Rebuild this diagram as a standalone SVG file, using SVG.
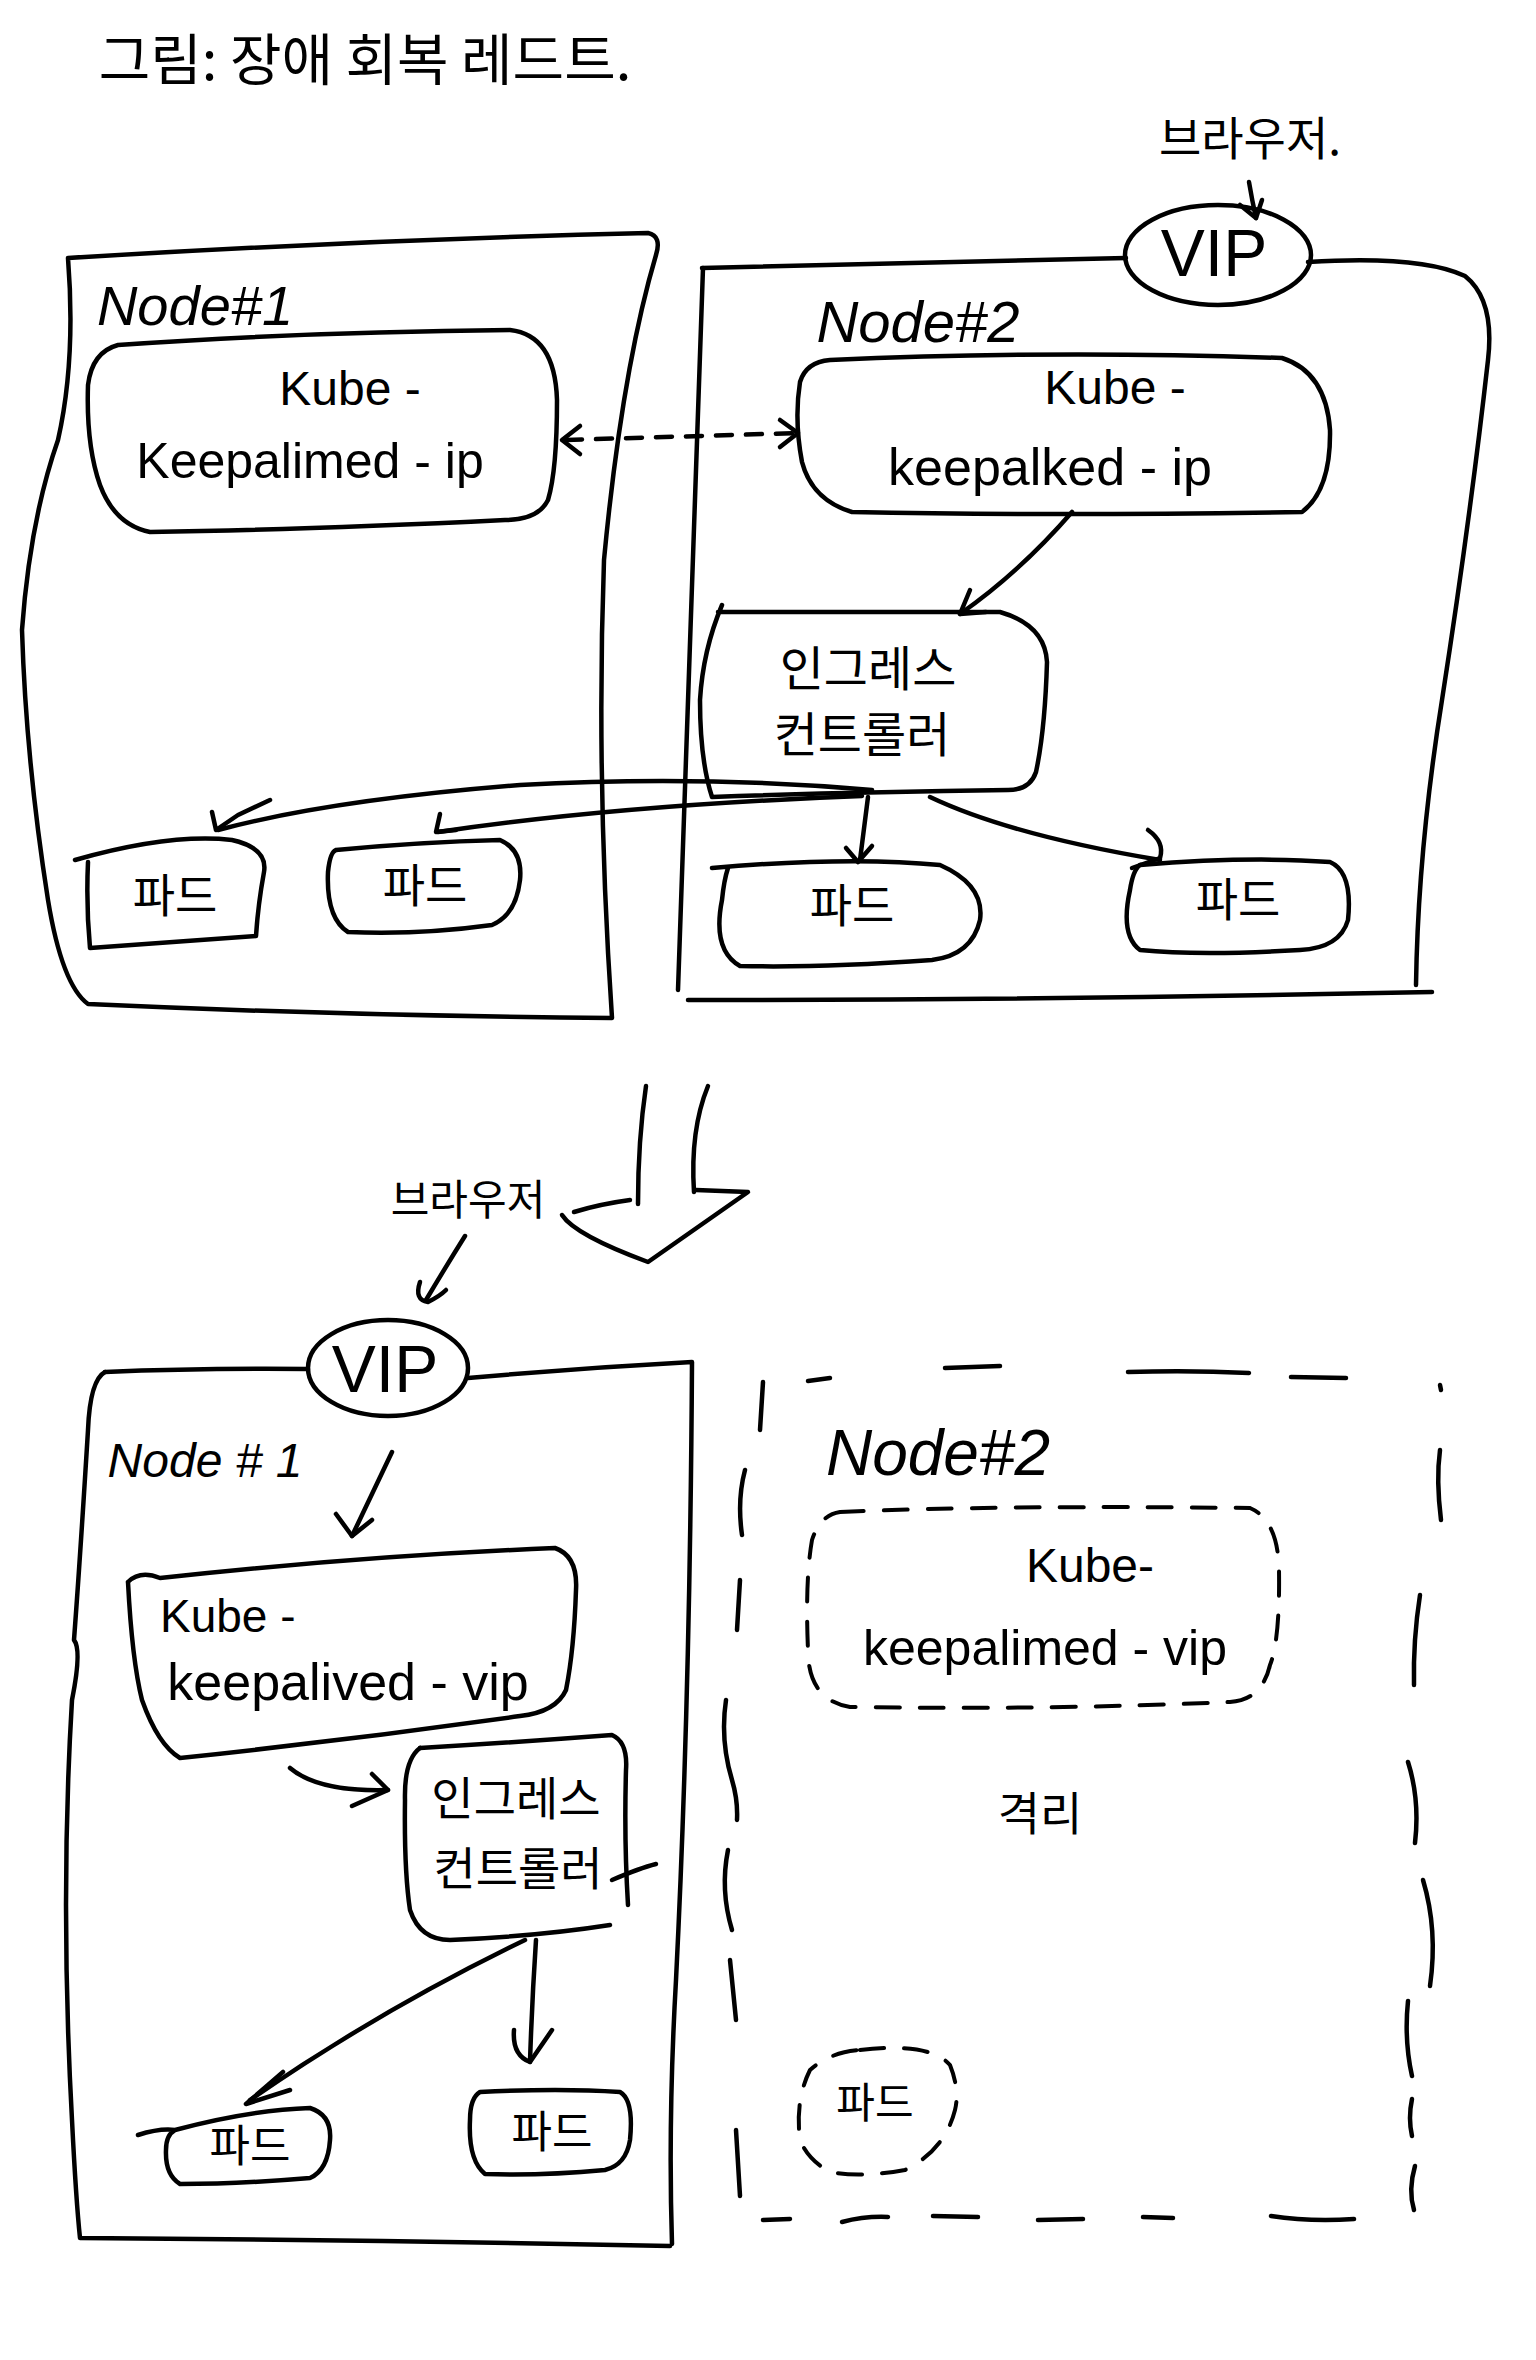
<svg xmlns="http://www.w3.org/2000/svg" width="1536" height="2360" viewBox="0 0 1536 2360">
<style>
.s{fill:none;stroke:#000;stroke-width:4.5;stroke-linecap:round;stroke-linejoin:round}
.d{fill:none;stroke:#000;stroke-width:4;stroke-linecap:round;stroke-dasharray:24 20}
.t{font-family:"Liberation Sans","Noto Sans CJK KR",sans-serif;fill:#000;text-anchor:middle}
.k{font-family:"Noto Sans CJK KR","Liberation Sans",sans-serif;fill:#000;text-anchor:middle}
.n{font-style:italic}
</style>
<rect width="1536" height="2360" fill="#fff"/>

<g id="title">
<text class="k" x="365" y="80" font-size="56">그림: 장애 회복 레드트.</text>
</g>

<!-- TOP SECTION -->
<g id="browser-top">
<text class="k" x="1250" y="155" font-size="46">브라우저.</text>
</g>
<g id="vip-top">
<ellipse class="s" cx="1218" cy="255" rx="93" ry="50"/>
<text class="t" x="1214" y="276" font-size="66">VIP</text>
</g>

<g id="node1-top">
<path class="s" d="M68 258 Q360 240 648 233 Q662 236 656 255 Q622 370 604 560 Q596 780 612 1018 Q350 1016 88 1004 Q62 985 48 900 Q26 760 22 630 Q30 520 58 440 Q76 360 68 258"/>
<text class="t n" x="195" y="325" font-size="56">Node#1</text>
</g>
<g id="kkip-node1">
<path class="s" d="M118 345 Q300 332 510 330 Q555 335 557 400 Q557 470 548 500 Q538 520 505 520 Q300 530 150 532 Q115 525 100 485 Q86 445 88 385 Q92 352 118 345"/>
<text class="t" x="350" y="405" font-size="48">Kube -</text>
<text class="t" x="310" y="478" font-size="50">Keepalimed - ip</text>
</g>
<g id="pod-n1-a">
<path class="s" d="M75 860 Q170 833 232 840 Q268 848 264 872 Q258 905 256 936 Q170 942 90 948 Q86 905 88 862"/>
<text class="k" x="175" y="912" font-size="46">파드</text>
</g>
<g id="pod-n1-b">
<path class="s" d="M336 850 Q420 842 500 840 Q523 850 520 880 Q516 915 492 925 Q420 935 348 932 Q326 918 328 872 Q330 852 336 850"/>
<text class="k" x="425" y="902" font-size="46">파드</text>
</g>

<g id="node2-top">
<path class="s" d="M702 268 L1126 258"/>
<path class="s" d="M1308 262 Q1420 255 1465 276 Q1495 300 1488 360 Q1470 520 1442 700 Q1418 850 1416 985"/>
<path class="s" d="M703 268 Q690 600 678 990"/>
<path class="s" d="M688 1000 Q1050 1000 1432 992"/>
<text class="t n" x="918" y="342" font-size="58">Node#2</text>
</g>
<g id="kkip-node2">
<path class="s" d="M830 360 Q1050 350 1282 358 Q1326 372 1330 430 Q1331 490 1302 512 Q1050 516 852 512 Q812 500 802 462 Q794 420 800 382 Q806 362 830 360"/>
<text class="t" x="1115" y="404" font-size="48">Kube -</text>
<text class="t" x="1050" y="485" font-size="52">keepalked - ip</text>
</g>
<g id="ingress-top">
<path class="s" d="M718 612 L1000 612 Q1045 625 1047 662 Q1045 730 1036 772 Q1030 790 1008 790 Q850 792 712 797 Q700 760 700 700 Q703 650 722 605"/>
<text class="k" x="868" y="686" font-size="48">인그레스</text>
<text class="k" x="862" y="752" font-size="48">컨트롤러</text>
</g>
<g id="pod-n2-a">
<path class="s" d="M712 868 Q850 856 940 865 Q985 885 980 920 Q972 955 932 960 Q820 968 740 966 Q712 950 722 900 Q724 880 728 868"/>
<text class="k" x="852" y="922" font-size="46">파드</text>
</g>
<g id="pod-n2-b">
<path class="s" d="M1140 865 Q1250 856 1330 862 Q1353 872 1348 920 Q1340 948 1300 950 Q1200 956 1140 950 Q1120 935 1130 890 Q1133 870 1140 865"/>
<text class="k" x="1238" y="916" font-size="46">파드</text>
</g>

<!-- BOTTOM SECTION -->
<g id="browser-bottom">
<text class="k" x="468" y="1215" font-size="42">브라우저</text>
</g>
<g id="vip-bottom">
<ellipse class="s" cx="388" cy="1368" rx="80" ry="48"/>
<text class="t" x="385" y="1392" font-size="66">VIP</text>
</g>
<g id="node1-bottom">
<path class="s" d="M105 1372 Q200 1368 308 1369"/>
<path class="s" d="M468 1378 Q580 1368 692 1362 Q690 1700 676 1980 Q668 2120 672 2244"/>
<path class="s" d="M105 1372 Q90 1380 88 1430 Q80 1560 74 1640 Q82 1650 72 1700 Q60 1900 72 2120 Q76 2200 80 2238 Q380 2240 670 2246"/>
<text class="t n" x="205" y="1477" font-size="48">Node # 1</text>
</g>
<g id="kkvip-node1">
<path class="s" d="M128 1582 Q140 1570 160 1578 Q360 1556 555 1548 Q578 1556 576 1590 Q574 1650 566 1690 Q556 1712 520 1716 Q350 1740 180 1758 Q158 1745 142 1700 Q132 1660 128 1582"/>
<text class="t" x="160" y="1632" font-size="46" style="text-anchor:start">Kube -</text>
<text class="t" x="348" y="1700" font-size="52">keepalived - vip</text>
</g>
<g id="ingress-bottom">
<path class="s" d="M420 1748 Q520 1742 612 1735 Q628 1742 626 1770 Q624 1840 628 1905"/>
<path class="s" d="M420 1748 Q404 1760 405 1800 Q404 1870 410 1910 Q420 1940 450 1940 Q540 1936 610 1925"/>
<path class="s" d="M612 1880 Q640 1868 656 1864"/>
<text class="k" x="516" y="1815" font-size="46">인그레스</text>
<text class="k" x="518" y="1885" font-size="46">컨트롤러</text>
</g>
<g id="pod-n1b-a">
<path class="s" d="M138 2135 Q160 2128 175 2130 Q250 2110 310 2108 Q332 2115 330 2140 Q328 2170 310 2178 Q240 2184 180 2184 Q165 2175 166 2150 Q166 2135 175 2130"/>
<text class="k" x="250" y="2162" font-size="44">파드</text>
</g>
<g id="pod-n1b-b">
<path class="s" d="M480 2092 Q560 2088 620 2092 Q634 2100 630 2140 Q626 2165 605 2170 Q540 2176 485 2174 Q468 2160 470 2120 Q470 2098 480 2092"/>
<text class="k" x="552" y="2148" font-size="44">파드</text>
</g>

<g id="node2-bottom">
<g class="s">
<path d="M808 1381 L830 1378"/>
<path d="M945 1368 L1000 1366"/>
<path d="M1128 1372 Q1190 1370 1249 1373"/>
<path d="M1291 1377 L1346 1378"/>
<path d="M1440 1385 L1441 1390"/>
<path d="M1440 1450 Q1436 1480 1441 1520"/>
<path d="M1420 1595 Q1413 1640 1414 1685"/>
<path d="M1408 1762 Q1420 1800 1415 1843"/>
<path d="M1423 1880 Q1438 1930 1430 1986"/>
<path d="M1408 2001 Q1404 2040 1412 2076"/>
<path d="M1412 2099 Q1408 2118 1412 2136"/>
<path d="M1415 2166 Q1408 2190 1414 2210"/>
<path d="M763 2220 L790 2219"/>
<path d="M842 2222 Q865 2216 888 2217"/>
<path d="M933 2216 L978 2217"/>
<path d="M1038 2220 L1083 2219"/>
<path d="M1143 2217 L1173 2218"/>
<path d="M1271 2216 Q1310 2222 1354 2219"/>
<path d="M763 1382 L760 1430"/>
<path d="M745 1470 Q737 1500 742 1535"/>
<path d="M740 1580 L737 1630"/>
<path d="M726 1700 Q720 1740 732 1780 Q738 1800 737 1820"/>
<path d="M728 1850 Q720 1890 732 1930"/>
<path d="M730 1960 L736 2020"/>
<path d="M736 2130 L740 2196"/>
</g>
<text class="t n" x="938" y="1475" font-size="64">Node#2</text>
</g>
<g id="kkvip-node2">
<path class="d" d="M840 1512 Q1000 1505 1250 1508 Q1278 1520 1279 1570 Q1280 1640 1270 1665 Q1262 1700 1230 1702 Q1050 1710 850 1707 Q808 1700 808 1650 Q805 1580 812 1540 Q820 1515 840 1512"/>
<text class="t" x="1090" y="1582" font-size="48">Kube-</text>
<text class="t" x="1045" y="1665" font-size="50">keepalimed - vip</text>
</g>
<g id="isolation">
<text class="k" x="1040" y="1830" font-size="46">격리</text>
</g>
<g id="pod-n2b">
<path class="d" d="M860 2050 Q930 2042 950 2065 Q960 2090 955 2110 Q945 2150 905 2170 Q860 2178 830 2172 Q808 2160 800 2140 Q795 2100 810 2070 Q830 2052 860 2050"/>
<text class="k" x="875" y="2118" font-size="42">파드</text>
</g>

<g id="connectors">
<path class="s" d="M1249 182 Q1252 200 1256 218"/>
<path class="s" d="M1240 205 L1256 218 L1262 200"/>
<path class="s" d="M566 440 L798 433" stroke-dasharray="16 14"/>
<path class="s" d="M580 426 L562 440 L580 454"/>
<path class="s" d="M780 420 L798 433 L780 447"/>
<path class="s" d="M1072 512 Q1020 572 960 614"/>
<path class="s" d="M970 590 L960 614 L986 612"/>
<path class="s" d="M872 790 Q700 775 520 785 Q330 800 218 830"/>
<path class="s" d="M270 800 L238 815 L216 830 L212 812"/>
<path class="s" d="M862 796 Q620 805 438 832"/>
<path class="s" d="M440 814 L436 832 L456 830"/>
<path class="s" d="M868 797 L860 860"/>
<path class="s" d="M846 848 L858 862 L872 846"/>
<path class="s" d="M930 797 Q1010 835 1160 860"/>
<path class="s" d="M1148 830 Q1165 842 1160 858 L1132 868"/>
<path class="s" d="M646 1086 Q638 1140 638 1204"/>
<path class="s" d="M708 1086 Q690 1130 694 1192"/>
<path class="s" d="M574 1212 Q600 1204 630 1200"/>
<path class="s" d="M562 1215 Q575 1235 648 1262 L748 1192 L696 1190"/>
<path class="s" d="M465 1236 Q445 1268 426 1300"/>
<path class="s" d="M420 1282 Q414 1300 428 1302 Q440 1296 446 1290"/>
<path class="s" d="M392 1452 Q374 1490 352 1536"/>
<path class="s" d="M336 1514 L352 1536 L372 1520"/>
<path class="s" d="M290 1768 Q318 1792 388 1790"/>
<path class="s" d="M372 1774 L388 1790 L352 1806"/>
<path class="s" d="M525 1940 Q380 2010 250 2100"/>
<path class="s" d="M283 2072 L268 2085 L246 2104 L290 2090"/>
<path class="s" d="M536 1940 Q532 2000 530 2062"/>
<path class="s" d="M514 2030 Q512 2055 530 2062 L552 2030"/>
</g>
</svg>
